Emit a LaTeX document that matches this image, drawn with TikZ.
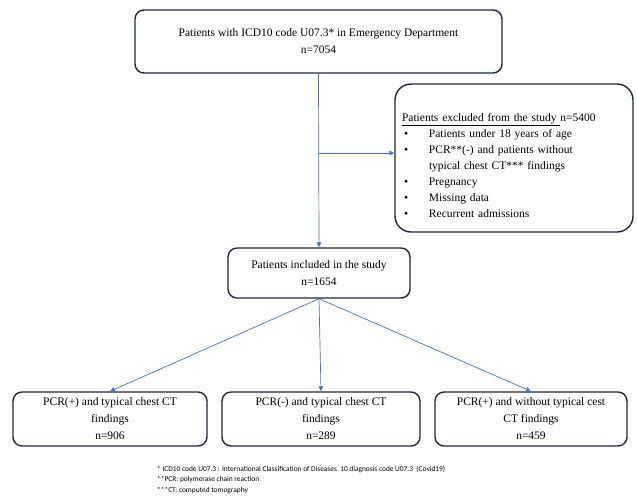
\documentclass[tikz,border=0pt]{standalone}
\usepackage{fontspec}
\setmainfont{Liberation Serif}
\newfontfamily\notefont{Carlito}
\usetikzlibrary{arrows.meta}
\definecolor{boxline}{RGB}{30,40,62}
\definecolor{linkblue}{RGB}{68,114,196}

\begin{document}
\begin{tikzpicture}[x=1pt, y=-1pt,
    box/.style={draw=boxline, line width=1.4pt, rounded corners=9pt, align=center,
        inner sep=0pt, font=\fontsize{11.5}{17}\selectfont},
    link/.style={draw=linkblue, line width=0.7pt, -{Triangle[length=5pt, width=4.5pt]}}]

            \useasboundingbox (0,0) rectangle (637,499);

            %screening
            \node[box, minimum width=367pt, minimum height=63pt] (screen) at (318.5, 41.5)
                {Patients with ICD10 code U07.3* in Emergency Department\\n=7054};

            %excluded
            \node[box, rounded corners=16pt, minimum width=238pt, minimum height=148pt,
                align=left, text width=224pt, font=\fontsize{11.5}{16}\selectfont] (excl) at (514, 158)
                {\rule{0pt}{23pt}\underline{Patients excluded from the study }n=5400\\
                 \makebox[27pt][l]{\hspace{2pt}\textbullet}Patients under 18 years of age\\
                 \makebox[27pt][l]{\hspace{2pt}\textbullet}PCR**(-) and patients without\\
                 \hspace*{27pt}typical chest CT*** findings\\
                 \makebox[27pt][l]{\hspace{2pt}\textbullet}Pregnancy\\
                 \makebox[27pt][l]{\hspace{2pt}\textbullet}Missing data\\
                 \makebox[27pt][l]{\hspace{2pt}\textbullet}Recurrent admissions};

            %included
            \node[box, minimum width=182pt, minimum height=50pt] (incl) at (319, 273)
                {Patients included in the study\\n=1654};

            %groups
            \node[box, minimum width=194pt, minimum height=54pt] (g1) at (110, 419)
                {PCR(+) and typical chest CT\\findings\\n=906};
            \node[box, minimum width=198pt, minimum height=54pt] (g2) at (321, 419)
                {PCR(-) and typical chest CT\\findings\\n=289};
            \node[box, minimum width=192pt, minimum height=54pt] (g3) at (531, 419)
                {PCR(+) and without typical cest\\CT findings\\n=459};

            %connections
            \coordinate (split) at (screen.south |- 0, 153);
            \draw[link] (screen.south) -- (incl.north);
            \draw[link] (split) -- (split -| excl.west);
            \foreach \g in {1,...,3}{
                \draw[link] (incl.south) -- (g\g.north);
            };

            %footnotes
            \node[anchor=north west, align=left, inner sep=0pt,
                font=\notefont\fontsize{7.4}{10.3}\selectfont] (notes) at (157, 466)
                {* ICD10 code U07.3 : International Classification of Diseases\ \ 10 diagnosis code U07.3\ \ (Covid19)\\
                 **PCR: polymerase chain reaction\\
                 ***CT: computed tomography};
        \end{tikzpicture}
\end{document}
